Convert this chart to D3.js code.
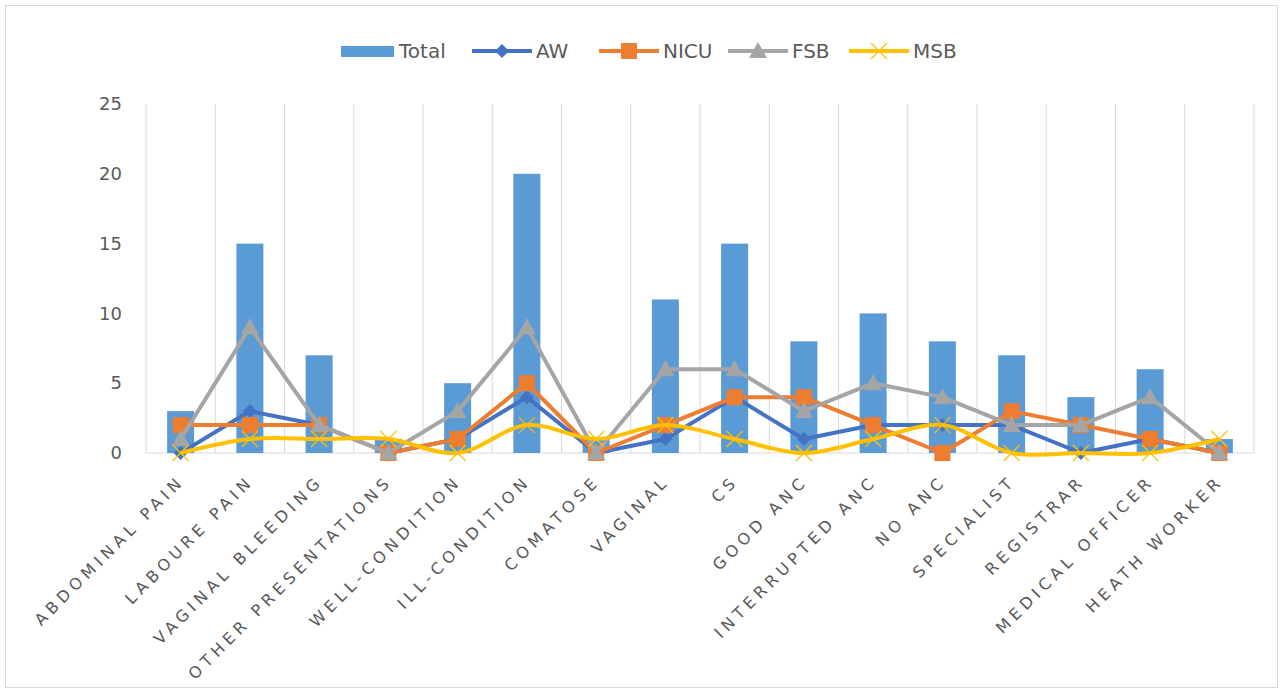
<!DOCTYPE html>
<html>
<head>
<meta charset="utf-8">
<script src="https://cdn.jsdelivr.net/npm/d3@7"></script>
<style>
  body { margin: 0; background: #fff; }
  text { font-family: "DejaVu Sans", sans-serif; fill: #595959; }
</style>
</head>
<body>
<div id="chart"></div>
<script>
// categories and series
var categories = ["ABDOMINAL PAIN", "LABOURE PAIN", "VAGINAL BLEEDING", "OTHER PRESENTATIONS",
  "WELL-CONDITION", "ILL-CONDITION", "COMATOSE", "VAGINAL", "CS", "GOOD ANC",
  "INTERRUPTED ANC", "NO ANC", "SPECIALIST", "REGISTRAR", "MEDICAL OFFICER", "HEATH WORKER"];
var total = [3, 15, 7, 1, 5, 20, 1, 11, 15, 8, 10, 8, 7, 4, 6, 1];
var aw    = [0, 3, 2, 0, 1, 4, 0, 1, 4, 1, 2, 2, 2, 0, 1, 0];
var nicu  = [2, 2, 2, 0, 1, 5, 0, 2, 4, 4, 2, 0, 3, 2, 1, 0];
var fsb   = [1, 9, 2, 0, 3, 9, 0, 6, 6, 3, 5, 4, 2, 2, 4, 0];
var msb   = [0, 1, 1, 1, 0, 2, 1, 2, 1, 0, 1, 2, 0, 0, 0, 1];
var yTicks = [0, 5, 10, 15, 20, 25];

var svgWidth = 1283, svgHeight = 693;
var margin = {top: 104, right: 29, bottom: 240, left: 146};
var width = svgWidth - margin.left - margin.right;
var height = svgHeight - margin.top - margin.bottom;

var svg = d3.select("#chart").append("svg")
  .attr("width", svgWidth)
  .attr("height", svgHeight);

// outer border
svg.append("rect")
  .attr("x", 5.5).attr("y", 5.5)
  .attr("width", svgWidth - 11).attr("height", svgHeight - 11)
  .attr("fill", "none").attr("stroke", "#d9d9d9");

var chartGroup = svg.append("g")
  .attr("transform", `translate(${margin.left}, ${margin.top})`);

var x = d3.scaleBand().domain(categories).range([0, width]);
var y = d3.scaleLinear().domain([0, 25]).range([height, 0]);

// vertical gridlines at category boundaries
var bounds = categories.map(c => x(c)).concat([width]);
chartGroup.selectAll(".vgrid").data(bounds).enter()
  .append("line")
  .attr("x1", d => d).attr("x2", d => d)
  .attr("y1", 0).attr("y2", height)
  .attr("stroke", "#d9d9d9").attr("stroke-width", 1);

// baseline
chartGroup.append("line")
  .attr("x1", 0).attr("x2", width)
  .attr("y1", y(0)).attr("y2", y(0))
  .attr("stroke", "#d9d9d9");

// y axis labels
var leftAxis = d3.axisLeft(y).tickValues(yTicks).tickSize(0).tickPadding(24);
var yAxis = chartGroup.append("g").call(leftAxis);
yAxis.select(".domain").remove();
yAxis.selectAll("text")
  .style("font-size", "18px")
  .style("font-family", "\"DejaVu Sans\", sans-serif")
  .attr("fill", "#595959");

// x axis labels
var bottomAxis = d3.axisBottom(x).tickSize(0).tickPadding(0);
var xAxis = chartGroup.append("g")
  .attr("transform", `translate(0, ${height})`)
  .call(bottomAxis);
xAxis.select(".domain").remove();
xAxis.selectAll("text")
  .attr("text-anchor", "end")
  .attr("dy", 0)
  .attr("y", 0)
  .attr("transform", "translate(5, 29) rotate(-45)")
  .style("font-size", "16px")
  .style("letter-spacing", "4.7px")
  .style("font-family", "\"DejaVu Sans\", sans-serif")
  .attr("fill", "#595959");

// bars
var barW = 27;
chartGroup.selectAll(".bar").data(total).enter()
  .append("rect")
  .attr("x", (d, i) => x(categories[i]) + x.bandwidth() / 2 - barW / 2)
  .attr("y", d => y(d))
  .attr("width", barW)
  .attr("height", d => y(0) - y(d))
  .attr("fill", "#5B9BD5");

var cx = i => x(categories[i]) + x.bandwidth() / 2;

var series = [
  {name: "AW", values: aw, color: "#4472C4", marker: "diamond", curve: d3.curveLinear},
  {name: "NICU", values: nicu, color: "#ED7D31", marker: "square", curve: d3.curveLinear},
  {name: "FSB", values: fsb, color: "#A5A5A5", marker: "triangle", curve: d3.curveLinear},
  {name: "MSB", values: msb, color: "#FFC000", marker: "x", curve: d3.curveCatmullRom.alpha(0.5)}
];

function drawMarker(g, type, color) {
  if (type === "diamond") {
    g.append("path").attr("d", "M0,-7L7,0L0,7L-7,0Z").attr("fill", color);
  } else if (type === "square") {
    g.append("rect").attr("x", -8).attr("y", -8).attr("width", 16).attr("height", 16).attr("fill", color);
  } else if (type === "triangle") {
    g.append("path").attr("d", "M0,-9L9,7L-9,7Z").attr("fill", color);
  } else {
    g.append("path").attr("d", "M-8,-8L8,8M-8,8L8,-8")
      .attr("stroke", color).attr("stroke-width", 1.2).attr("fill", "none");
  }
}

series.forEach(function(s) {
  var line = d3.line()
    .x((d, i) => cx(i))
    .y(d => y(d))
    .curve(s.curve);
  chartGroup.append("path")
    .datum(s.values)
    .attr("d", line)
    .attr("fill", "none")
    .attr("stroke", s.color)
    .attr("stroke-width", 4)
    .attr("stroke-linejoin", "round");
  s.values.forEach(function(v, i) {
    var g = chartGroup.append("g").attr("transform", `translate(${cx(i)}, ${y(v)})`);
    drawMarker(g, s.marker, s.color);
  });
});

// legend
var legend = svg.append("g").attr("transform", "translate(0, 51)");
legend.append("rect").attr("x", 341).attr("y", -5).attr("width", 53).attr("height", 11).attr("fill", "#5B9BD5");
legend.append("text").attr("x", 399).attr("y", 0).attr("dy", "0.35em").style("font-size", "20px").text("Total");

var legendPos = [472, 599, 728, 849];
series.forEach(function(s, i) {
  var lx = legendPos[i];
  legend.append("line")
    .attr("x1", lx).attr("x2", lx + 60).attr("y1", 0).attr("y2", 0)
    .attr("stroke", s.color).attr("stroke-width", 4);
  var g = legend.append("g").attr("transform", `translate(${lx + 30}, 0)`);
  drawMarker(g, s.marker, s.color);
  legend.append("text").attr("x", lx + 64).attr("y", 0).attr("dy", "0.35em")
    .style("font-size", "20px").text(s.name);
});
</script>
</body>
</html>
